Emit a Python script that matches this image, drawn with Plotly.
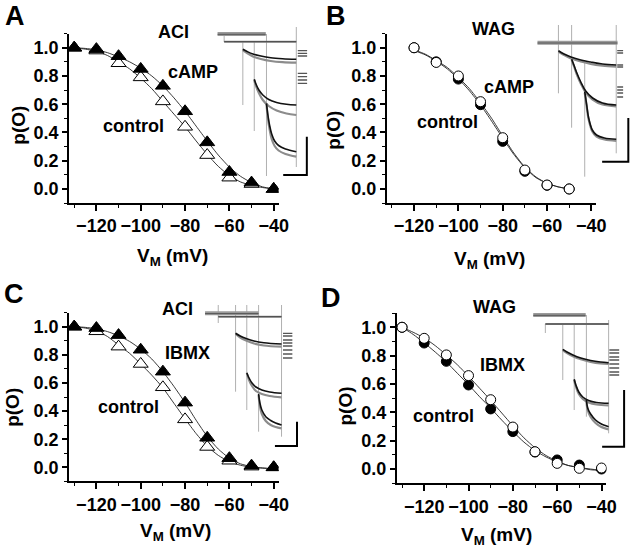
import plotly.graph_objects as go

W, H = 640, 548

# ---------------- data: steady-state p(O) vs membrane potential ----------------
V_ALL = [-130, -120, -110, -100, -90, -80, -70, -60, -50, -40]
V_B = [-120, -110, -100, -90, -80, -70, -60, -50]
V_FIT = [-130, -125, -120, -115, -110, -105, -100, -95, -90, -85, -80, -75, -70, -65, -60, -55, -50, -45, -40]
V_FIT_B = [-120, -115, -110, -105, -100, -95, -90, -85, -80, -75, -70, -65, -60, -55, -50]

# Panel A (ACI, cAMP)
A_CAMP = [1.0, 0.99, 0.94, 0.85, 0.73, 0.55, 0.33, 0.12, 0.045, 0.0]
A_CTRL = [1.0, 0.98, 0.89, 0.79, 0.62, 0.44, 0.24, 0.08, 0.035, 0.0]
A_CAMP_FIT = [1.0, 0.995, 0.985, 0.965, 0.935, 0.90, 0.855, 0.80, 0.73, 0.645, 0.55, 0.445, 0.34, 0.24, 0.155, 0.09, 0.045, 0.015, 0.0]
A_CTRL_FIT = [1.0, 0.99, 0.975, 0.945, 0.90, 0.85, 0.785, 0.71, 0.62, 0.53, 0.44, 0.34, 0.245, 0.16, 0.095, 0.05, 0.025, 0.01, 0.0]

# Panel B (WAG, cAMP)
B_CAMP = [1.0, 0.90, 0.778, 0.597, 0.337, 0.125, 0.026, 0.0]
B_CTRL = [1.0, 0.896, 0.80, 0.618, 0.363, 0.134, 0.028, 0.0]
B_CAMP_FIT = [0.98, 0.95, 0.905, 0.85, 0.78, 0.695, 0.595, 0.48, 0.36, 0.245, 0.15, 0.08, 0.04, 0.015, 0.0]
B_CTRL_FIT = [0.985, 0.955, 0.91, 0.86, 0.79, 0.71, 0.61, 0.50, 0.375, 0.255, 0.155, 0.085, 0.04, 0.015, 0.0]

# Panel C (ACI, IBMX)
C_IBMX = [1.0, 0.99, 0.94, 0.836, 0.68, 0.46, 0.21, 0.065, 0.012, 0.0]
C_CTRL = [1.0, 0.967, 0.858, 0.735, 0.569, 0.341, 0.145, 0.047, 0.005, 0.0]
C_IBMX_FIT = [1.0, 0.995, 0.985, 0.965, 0.935, 0.895, 0.84, 0.77, 0.68, 0.575, 0.46, 0.335, 0.22, 0.13, 0.065, 0.025, 0.005, -0.005, -0.01]
C_CTRL_FIT = [1.0, 0.99, 0.97, 0.93, 0.87, 0.81, 0.735, 0.655, 0.565, 0.455, 0.345, 0.24, 0.15, 0.085, 0.04, 0.015, 0.0, -0.005, -0.01]

# Panel D (WAG, IBMX)
D_OPEN = [1.0, 0.922, 0.805, 0.659, 0.489, 0.296, 0.122, 0.04, 0.005, 0.007]
D_FILLED = [1.0, 0.889, 0.76, 0.593, 0.424, 0.264, 0.12, 0.064, 0.028, 0.0]
D_OPEN_FIT = [1.0, 0.965, 0.925, 0.87, 0.805, 0.735, 0.655, 0.57, 0.485, 0.395, 0.305, 0.22, 0.15, 0.095, 0.055, 0.025, 0.01, -0.005, -0.01]
D_FILLED_FIT = [1.0, 0.95, 0.89, 0.825, 0.755, 0.675, 0.595, 0.51, 0.43, 0.345, 0.265, 0.19, 0.13, 0.085, 0.05, 0.025, 0.01, 0.0, -0.01]

X_TICKS = [-120, -100, -80, -60, -40]
Y_TICKS = [0.0, 0.2, 0.4, 0.6, 0.8, 1.0]

# ---------------- inset current traces (local time / current units) ----------------
# Panel A inset
A_BAR_T0 = [6, 12.7]
A_BAR_T1 = [55, 86]
A_BAR_I = [-14, -21.7]
A_VERT_T = [12.7, 31.7, 43.3, 55.7, 86]
A_VERT_TOP = [-14, -21.7, -21.7, -14, -7]
A_VERT_BOT = [-22, -85, -111, -156, -147]
A_BLACK_T = [[31.7, 36, 42, 50, 60, 72, 86], [43.3, 45, 48, 52, 58, 66, 76, 86], [55.7, 57, 59, 61, 64, 68, 75, 86]]
A_BLACK_I = [[-29.3, -31.5, -34, -36, -37.7, -38.7, -39.3], [-59.3, -64, -70, -75, -79.5, -82.5, -84.3, -85], [-83.3, -94, -106, -114, -121, -125.5, -129, -131.7]]
A_GRAY_T = [[31.7, 36, 42, 50, 60, 72, 86], [43.3, 45, 48, 52, 58, 66, 76, 86], [55.7, 57, 59, 61, 64, 68, 75, 86]]
A_GRAY_I = [[-30, -33, -36.5, -39, -41, -42.2, -42.7], [-60, -66, -73, -80, -86, -90.5, -93.5, -95], [-84, -97, -110, -119, -126, -130.5, -134, -136.7]]
A_TAIL_I = [-30.7, -33.3, -36, -53.3, -56.7, -60, -63.3]
A_TAIL_T = [87.5, 97]
A_SCALE_T = [72.7, 96.7, 96.7]
A_SCALE_I = [-155, -155, -116.7]

# Panel B inset
B_BAR_T0 = [6]
B_BAR_T1 = [87.3]
B_BAR_I = [-22.7]
B_VERT_T = [27.3, 40.7, 54, 86]
B_VERT_TOP = [-5, -5, -40, -5]
B_VERT_BOT = [-73.3, -107.7, -156.7, -133.3]
B_BLACK_T = [[27.3, 33, 40, 50, 60, 72, 86], [40.7, 43, 46, 50, 55, 62, 72, 86], [54, 56, 58, 61.7, 66, 74, 86]]
B_BLACK_I = [[-30.7, -34, -37, -40, -42, -44, -45], [-39.3, -45, -53, -62, -71, -78, -83, -85], [-71.7, -85, -98, -110, -115, -118, -119.3]]
B_GRAY_T = [[27.3, 33, 40, 50, 60, 72, 86], [40.7, 43, 46, 50, 55, 62, 72, 86], [54, 56, 58, 61.7, 66, 74, 86]]
B_GRAY_I = [[-31.5, -35, -38.5, -41.5, -44, -45.7, -46.7], [-40, -46, -54.5, -63.5, -72.5, -79.5, -84.5, -86.3], [-72.5, -86.5, -99.5, -111.5, -116.5, -119.5, -120.8]]
B_TAIL_I = [-30.7, -33, -45, -47, -67, -70, -73, -77]
B_TAIL_T = [87, 93]
B_SCALE_T = [71.7, 98.3, 98.3]
B_SCALE_I = [-141.7, -141.7, -98]

# Panel C inset
C_BAR_T0 = [8.3, 21.7]
C_BAR_T1 = [62.7, 86]
C_BAR_I = [-13.3, -16.7]
C_VERT_T = [21.7, 39.3, 50.7, 62.7, 86]
C_VERT_TOP = [-5, -5, -5, -5, -5]
C_VERT_BOT = [-23, -91.7, -110, -131.7, -136.7]
C_BLACK_T = [[39.3, 44, 50, 58, 68, 86], [50.7, 53, 56, 60, 66, 74, 86], [62.7, 64, 66, 70, 75, 80, 86]]
C_BLACK_I = [[-33.3, -36, -38.5, -41, -42.7, -44], [-72.7, -78, -83, -87, -90, -92, -93.3], [-94, -103, -110, -116.7, -120.5, -123, -125]]
C_GRAY_T = [[39.3, 44, 50, 58, 68, 86], [50.7, 53, 56, 60, 66, 74, 86], [62.7, 64, 66, 70, 75, 80, 86]]
C_GRAY_I = [[-34, -37.5, -40.5, -43.5, -45.5, -46.7], [-73.3, -80, -86, -91, -94, -96, -97.3], [-95, -106, -114, -121, -125, -127, -128.3]]
C_TAIL_I = [-33.3, -36, -40, -43, -46, -50, -54, -58]
C_TAIL_T = [87.5, 97]
C_SCALE_T = [79.3, 101.7, 101.7]
C_SCALE_I = [-146, -146, -121.7]

# Panel D inset
D_BAR_T0 = [11.7, 24]
D_BAR_T1 = [65, 88.3]
D_BAR_I = [-15, -24]
D_VERT_T = [24, 41.7, 53.3, 65.7, 88.3]
D_VERT_TOP = [-24, -24, -24, -15, -20]
D_VERT_BOT = [-33, -80, -110, -116.7, -133.3]
D_BLACK_T = [[41.7, 46, 52, 60, 70, 80, 88.3], [53.3, 55, 58, 62, 68, 76, 88.3], [65.7, 67, 70, 75, 80, 88.3]]
D_BLACK_I = [[-49.3, -52, -55, -58, -60.5, -62, -62.7], [-79.3, -85, -92, -97, -100.5, -102.5, -103.3], [-100, -108, -114, -120, -123.5, -126.7]]
D_GRAY_T = [[41.7, 46, 52, 60, 70, 80, 88.3], [53.3, 55, 58, 62, 68, 76, 88.3], [65.7, 67, 70, 75, 80, 88.3]]
D_GRAY_I = [[-50, -53, -56.2, -59.3, -61.8, -63.4, -64], [-80, -86.5, -94, -99, -102.5, -104.5, -105.3], [-101, -110, -117, -123, -126.5, -129.5]]
D_TAIL_I = [-50, -53, -57, -60, -64, -68, -72, -75]
D_TAIL_T = [89, 99]
D_SCALE_T = [81.7, 104, 104]
D_SCALE_I = [-146.7, -146.7, -90]

# ---------------- layout geometry (pixels) ----------------
FONT = "Liberation Sans, Arial, sans-serif"
X_RANGE = [-132.4, -37.8]
Y_RANGE = [-0.1, 1.1]

PANELS = [
    # x0, x1, y0(top), y1(bottom)
    (70, 283, 33.6, 203.1),
    (392.7, 605.7, 33.6, 203.1),
    (70, 283, 312.6, 481.4),
    (403, 616, 313.1, 483.2),
]
INSETS = [
    # x0, x1, y0, y1, local x-range, local y-range
    (215, 315, 20, 180, [0, 100], [-160, 0]),
    (540, 640, 20, 180, [0, 100], [-160, 0]),
    (200, 310, 300, 450, [0, 110], [-150, 0]),
    (530, 640, 300, 450, [0, 110], [-150, 0]),
]


def xdom(a, b):
    return [a / W, b / W]


def ydom(top, bot):
    return [1 - bot / H, 1 - top / H]


fig = go.Figure()

axis_font = dict(family=FONT, size=18, color="black", weight="bold")


def add_main_axes(i, box):
    x0, x1, y0, y1 = box
    n = "" if i == 1 else str(i)
    fig.layout["xaxis" + n] = dict(
        domain=xdom(x0, x1), range=X_RANGE, anchor="y" + n,
        tickvals=X_TICKS, ticks="outside", ticklen=6, tickwidth=1.5,
        minor=dict(dtick=10, tick0=-130, ticks="outside", ticklen=3, tickwidth=1.2, tickcolor="black"),
        showline=True, linecolor="black", linewidth=1.5, showgrid=False,
        zeroline=False, tickfont=axis_font, tickcolor="black",
    )
    fig.layout["yaxis" + n] = dict(
        domain=ydom(y0, y1), range=Y_RANGE, anchor="x" + n,
        tickvals=Y_TICKS, tickformat=".1f", ticks="outside", ticklen=5, tickwidth=1.5,
        minor=dict(dtick=0.1, tick0=0, ticks="outside", ticklen=3, tickwidth=1.2, tickcolor="black"),
        showline=True, linecolor="black", linewidth=1.5, showgrid=False,
        zeroline=False, tickfont=axis_font, tickcolor="black",
    )


def add_inset_axes(i, ins):
    x0, x1, y0, y1, xr, yr = ins
    n = str(i)
    fig.layout["xaxis" + n] = dict(domain=xdom(x0, x1), range=xr, anchor="y" + n, visible=False, fixedrange=True)
    fig.layout["yaxis" + n] = dict(domain=ydom(y0, y1), range=yr, anchor="x" + n, visible=False, fixedrange=True)


for k, box in enumerate(PANELS):
    add_main_axes(k + 1, box)
for k, ins in enumerate(INSETS):
    add_inset_axes(k + 5, ins)


def ax(i):
    return ("x" if i == 1 else "x" + str(i)), ("y" if i == 1 else "y" + str(i))


def fit_line(i, xs, ys):
    xa, ya = ax(i)
    fig.add_trace(go.Scatter(x=xs, y=ys, mode="lines", line=dict(color="#222", width=0.9, shape="spline", smoothing=0.6),
                             xaxis=xa, yaxis=ya, showlegend=False, hoverinfo="skip"))


def markers(i, xs, ys, symbol, filled, size):
    xa, ya = ax(i)
    fig.add_trace(go.Scatter(
        x=xs, y=ys, mode="markers", xaxis=xa, yaxis=ya, showlegend=False,
        marker=dict(symbol=symbol, size=size, color="black" if filled else "white",
                    line=dict(color="black", width=1)),
    ))


# Panel A
fit_line(1, V_FIT, A_CTRL_FIT)
fit_line(1, V_FIT, A_CAMP_FIT)
markers(1, V_ALL, A_CTRL, "triangle-up", False, 13)
markers(1, V_ALL, A_CAMP, "triangle-up", True, 13)
# Panel B
fit_line(2, V_FIT_B, B_CTRL_FIT)
fit_line(2, V_FIT_B, B_CAMP_FIT)
markers(2, V_B, B_CAMP, "circle", True, 10)
markers(2, V_B, B_CTRL, "circle", False, 10)
# Panel C
fit_line(3, V_FIT, C_CTRL_FIT)
fit_line(3, V_FIT, C_IBMX_FIT)
markers(3, V_ALL, C_CTRL, "triangle-up", False, 13)
markers(3, V_ALL, C_IBMX, "triangle-up", True, 13)
# Panel D
fit_line(4, V_FIT, D_FILLED_FIT)
fit_line(4, V_FIT, D_OPEN_FIT)
markers(4, V_ALL, D_FILLED, "circle", True, 10)
markers(4, V_ALL, D_OPEN, "circle", False, 10)


# ---------------- insets ----------------
def seg_lines(i, xs, ys, color, width, shape="linear"):
    xa, ya = "x" + str(i), "y" + str(i)
    fig.add_trace(go.Scatter(x=xs, y=ys, mode="lines", xaxis=xa, yaxis=ya, showlegend=False, hoverinfo="skip",
                             line=dict(color=color, width=width, shape=shape)))


def inset(i, bar_t0, bar_t1, bar_i, vt, vtop, vbot, bt, bi, gt, gi, tail_i, tail_t, st, si):
    # vertical (capacitive) artefacts
    xs, ys = [], []
    for t, a, b in zip(vt, vtop, vbot):
        xs += [t, t, None]
        ys += [a, b, None]
    seg_lines(i, xs, ys, "#b0b0b0", 1)
    # holding-current baselines
    for k, (t0, t1, c) in enumerate(zip(bar_t0, bar_t1, bar_i)):
        if k == 0:
            seg_lines(i, [t0, t1], [c, c], "#9a9a9a", 4)
            seg_lines(i, [t0, t1], [c - 0.3, c - 0.3], "#444", 0.8)
        else:
            seg_lines(i, [t0, t1], [c, c], "#8a8a8a", 2)
            seg_lines(i, [t0, t1], [c, c], "#333", 0.8)
    # gray and black decay traces
    for tt, cc in zip(gt, gi):
        seg_lines(i, tt, cc, "#8c8c8c", 2.2, "spline")
    for tt, cc in zip(bt, bi):
        seg_lines(i, tt, cc, "#111", 1.6, "spline")
    # tail currents
    xs, ys = [], []
    for c in tail_i:
        xs += [tail_t[0], tail_t[1], None]
        ys += [c, c, None]
    seg_lines(i, xs, ys, "#555", 1.3)
    # scale bar
    seg_lines(i, st, si, "black", 2)


inset(5, A_BAR_T0, A_BAR_T1, A_BAR_I, A_VERT_T, A_VERT_TOP, A_VERT_BOT, A_BLACK_T, A_BLACK_I, A_GRAY_T, A_GRAY_I,
      A_TAIL_I, A_TAIL_T, A_SCALE_T, A_SCALE_I)
inset(6, B_BAR_T0, B_BAR_T1, B_BAR_I, B_VERT_T, B_VERT_TOP, B_VERT_BOT, B_BLACK_T, B_BLACK_I, B_GRAY_T, B_GRAY_I,
      B_TAIL_I, B_TAIL_T, B_SCALE_T, B_SCALE_I)
inset(7, C_BAR_T0, C_BAR_T1, C_BAR_I, C_VERT_T, C_VERT_TOP, C_VERT_BOT, C_BLACK_T, C_BLACK_I, C_GRAY_T, C_GRAY_I,
      C_TAIL_I, C_TAIL_T, C_SCALE_T, C_SCALE_I)
inset(8, D_BAR_T0, D_BAR_T1, D_BAR_I, D_VERT_T, D_VERT_TOP, D_VERT_BOT, D_BLACK_T, D_BLACK_I, D_GRAY_T, D_GRAY_I,
      D_TAIL_I, D_TAIL_T, D_SCALE_T, D_SCALE_I)

# ---------------- text ----------------
LABELS = [
    # text, x px, y px, size
    ("A", 15, 16, 27), ("B", 341, 16, 27), ("C", 14, 294, 27), ("D", 336, 298, 27),
    ("ACI", 176.7, 31.7, 18), ("cAMP", 196, 71.7, 18), ("control", 135.3, 126, 18),
    ("WAG", 501.8, 28.7, 18), ("cAMP", 517.2, 87.5, 18), ("control", 455, 121.7, 18),
    ("ACI", 180.8, 309, 18), ("IBMX", 190, 353.3, 18), ("control", 130.3, 407.3, 18),
    ("WAG", 502.2, 307, 18), ("IBMX", 510, 365, 18), ("control", 450.8, 415.7, 18),
    ("V<sub>M</sub> (mV)", 175, 257, 19), ("V<sub>M</sub> (mV)", 497, 260, 19),
    ("V<sub>M</sub> (mV)", 178, 532, 19), ("V<sub>M</sub> (mV)", 504, 536, 19),
]
for text, x, y, s in LABELS:
    fig.add_annotation(text="<b>" + text + "</b>", x=x / W, y=1 - y / H, xref="paper", yref="paper",
                       showarrow=False, xanchor="center", yanchor="middle",
                       font=dict(family=FONT, size=s, color="black"))

YTITLES = [(18, 125), (338, 130), (12, 407), (350, 406)]
for x, y in YTITLES:
    fig.add_annotation(text="<b>p(O)</b>", x=x / W, y=1 - y / H, xref="paper", yref="paper",
                       showarrow=False, xanchor="center", yanchor="middle", textangle=-90,
                       font=dict(family=FONT, size=19, color="black"))

fig.update_layout(
    width=W, height=H, margin=dict(l=0, r=0, t=0, b=0),
    paper_bgcolor="white", plot_bgcolor="rgba(0,0,0,0)",
    showlegend=False,
)

fig.write_html(
    "out.html",
    config={"displayModeBar": False},
    post_script="document.body.style.margin='0';document.body.style.overflow='hidden';",
)
